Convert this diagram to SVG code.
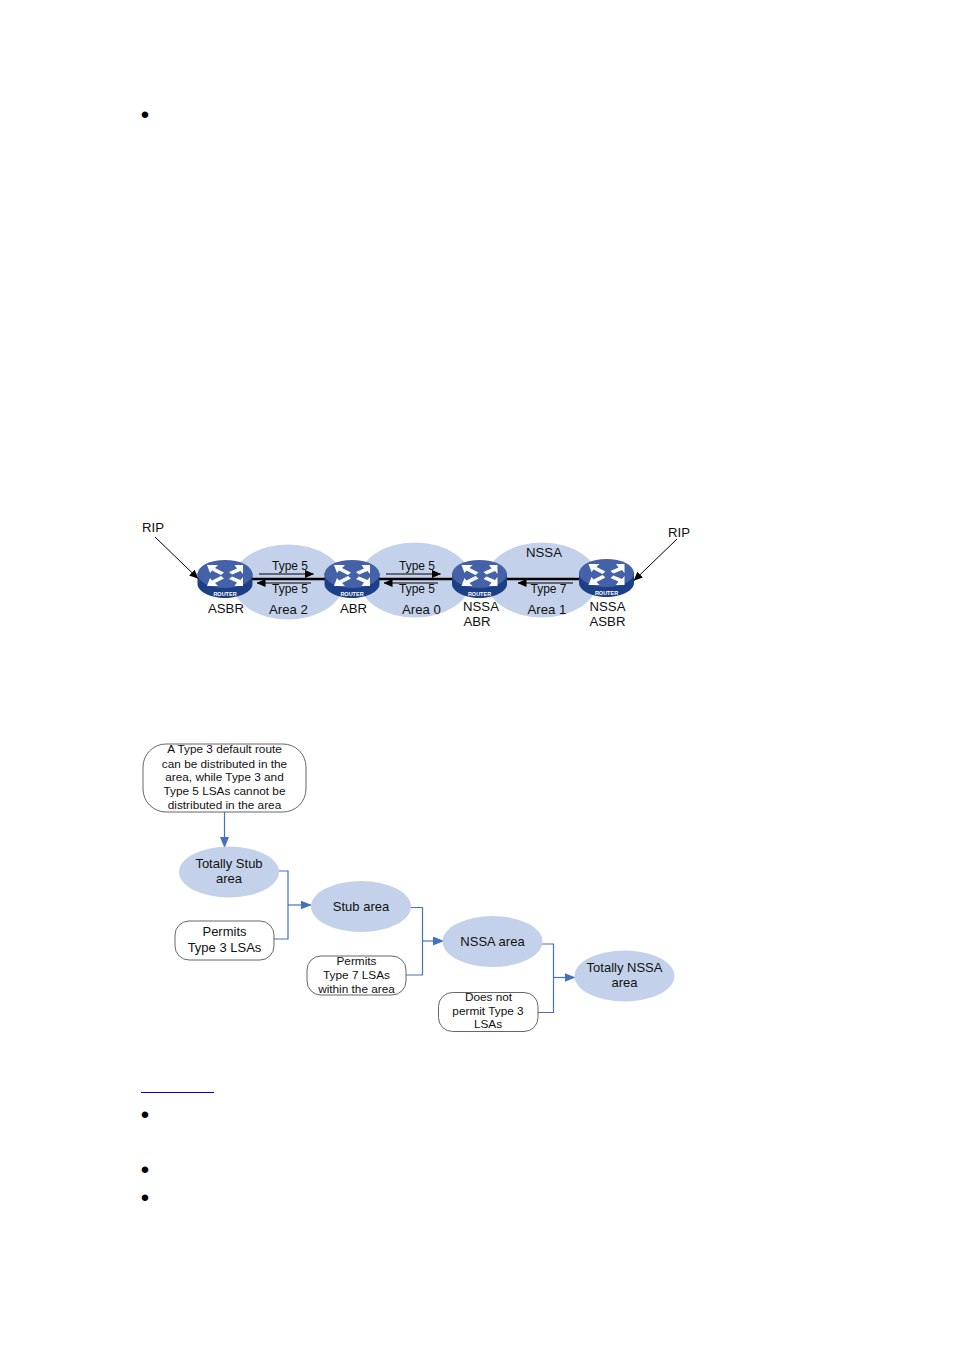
<svg xmlns="http://www.w3.org/2000/svg" xmlns:xlink="http://www.w3.org/1999/xlink" width="954" height="1350" viewBox="0 0 954 1350">
<style>
text{font-family:"Liberation Sans",Arial,sans-serif;fill:#111;text-anchor:middle}
.l{font-size:13.2px}.t{font-size:12px}.s{font-size:11.8px}.m{font-size:13px}
.b{font-size:24px;fill:#000}
.area{fill:#c3d2ea}
.box{fill:#fff;stroke:#555;stroke-width:.9}
.c{fill:none;stroke:#4472c0;stroke-width:1.2}
.k{fill:none;stroke:#000;stroke-width:1}
.th{fill:none;stroke:#000;stroke-width:2.4}
.rt{font-size:5.500px;font-weight:bold}
</style>
<defs>
<marker id="ab" markerUnits="userSpaceOnUse" markerWidth="11" markerHeight="9" refX="10.5" refY="4.5" orient="auto"><path d="M0 0L11 4.5L0 9z" fill="#4472c0"/></marker>
<marker id="ak" markerUnits="userSpaceOnUse" markerWidth="9" markerHeight="8" refX="8.5" refY="4" orient="auto"><path d="M0 0L9 4L0 8z" fill="#000"/></marker>
<g id="router">
<path d="M-27.5 13V24C-27.5 31.500 -15 38 0 38S27.500 31.500 27.500 24V13z" fill="#1d3f86"/>
<ellipse cx="0" cy="14" rx="27.500" ry="14" fill="#4562a8"/>
<path d="M-18 5H-7L-10 8L-1 12.500L-4 15L-13 10.500L-15 13zM-18 26H-7L-10 23L-1 18.500L-4 16L-13 20.500L-15 18zM18 5V14L15.500 11L7 14.500L4 12L12 8.500L9.500 5zM18 26V17L15.500 20L7 16.500L4 19L12 22.500L9.500 26z" fill="#fff"/>
<text class="rt" x="0" y="35.500" style="fill:#fff">ROUTER</text>
</g>
</defs>
<g id="page-marks">
<text class="b" x="145" y="122.500">•</text>
<line x1="141" y1="1092.500" x2="214" y2="1092.500" stroke="#0000c8" stroke-width="1"/>
<text class="b" x="145" y="1122.500">•</text>
<text class="b" x="145" y="1177.500">•</text>
<text class="b" x="145" y="1205.500">•</text>
</g>
<g id="areas">
<ellipse id="area2" class="area" cx="288" cy="582" rx="56" ry="37.500"/>
<ellipse id="area0" class="area" cx="415" cy="580" rx="56" ry="37.500"/>
<ellipse id="area1" class="area" cx="542" cy="580" rx="56" ry="37.500"/>
</g>
<g id="connectors">
<line class="th" x1="250" y1="579" x2="582" y2="579"/>
<line class="k" x1="155" y1="537" x2="198" y2="578.500" marker-end="url(#ak)"/>
<line class="k" x1="677" y1="539" x2="634" y2="580.500" marker-end="url(#ak)"/>
<line class="k" x1="259" y1="574" x2="313.500" y2="574" marker-end="url(#ak)"/>
<line class="k" x1="311" y1="583" x2="257" y2="583" marker-end="url(#ak)"/>
<line class="k" x1="386" y1="574" x2="440.500" y2="574" marker-end="url(#ak)"/>
<line class="k" x1="438" y1="583" x2="384" y2="583" marker-end="url(#ak)"/>
<line class="k" x1="573" y1="583" x2="518" y2="583" marker-end="url(#ak)"/>
<line class="c" x1="224.500" y1="812" x2="224.500" y2="847.500" marker-end="url(#ab)"/>
<path class="c" d="M278 871H288V939H274"/>
<line class="c" x1="288" y1="905" x2="311" y2="905" marker-end="url(#ab)"/>
<path class="c" d="M410 907.500H422.500V975H406"/>
<line class="c" x1="422" y1="941" x2="443.500" y2="941" marker-end="url(#ab)"/>
<path class="c" d="M541 944H553.500V1012.500H538"/>
<line class="c" x1="553.500" y1="977.500" x2="575" y2="977.500" marker-end="url(#ab)"/>
</g>
<g id="asbr"><use xlink:href="#router" href="#router" x="225" y="560"/><text class="l" x="226" y="613">ASBR</text></g>
<g id="abr"><use xlink:href="#router" href="#router" x="352" y="560"/><text class="l" x="353.500" y="613">ABR</text></g>
<g id="nssa-abr"><use xlink:href="#router" href="#router" x="479.500" y="560"/><text class="l" x="481" y="610.500">NSSA</text><text class="l" x="477" y="626">ABR</text></g>
<g id="nssa-asbr"><use xlink:href="#router" href="#router" x="606.500" y="559"/><text class="l" x="607.500" y="610.500">NSSA</text><text class="l" x="607.500" y="626">ASBR</text></g>
<g id="network-labels">
<text class="l" x="153" y="532">RIP</text>
<text class="l" x="679" y="537">RIP</text>
<text class="t" x="290" y="570">Type 5</text>
<text class="t" x="290" y="593">Type 5</text>
<text class="t" x="417" y="570">Type 5</text>
<text class="t" x="417" y="593">Type 5</text>
<text class="t" x="548.500" y="593">Type 7</text>
<text class="l" x="544" y="557">NSSA</text>
<text class="l" x="288.500" y="614">Area 2</text>
<text class="l" x="421.500" y="614">Area 0</text>
<text class="l" x="547" y="614">Area 1</text>
</g>
<g id="note-default">
<rect class="box" x="143" y="744" width="163" height="68" rx="23"/>
<text class="s" x="224.500" y="753">A Type 3 default route</text>
<text class="s" x="224.500" y="767.500">can be distributed in the</text>
<text class="s" x="224.500" y="781">area, while Type 3 and</text>
<text class="s" x="224.500" y="795">Type 5 LSAs cannot be</text>
<text class="s" x="224.500" y="808.500">distributed in the area</text>
</g>
<g id="totally-stub"><ellipse class="area" cx="229" cy="872" rx="50" ry="25.500"/><text class="m" x="229" y="868">Totally Stub</text><text class="m" x="229" y="883">area</text></g>
<g id="permits-type3"><rect class="box" x="175" y="921" width="99" height="39" rx="14"/><text class="m" x="224.500" y="936">Permits</text><text class="m" x="224.500" y="951.500">Type 3 LSAs</text></g>
<g id="stub"><ellipse class="area" cx="361" cy="906.500" rx="50" ry="25.500"/><text class="m" x="361" y="911">Stub area</text></g>
<g id="permits-type7"><rect class="box" x="307" y="956" width="99" height="39" rx="14"/><text class="s" x="356.500" y="965">Permits</text><text class="s" x="356.500" y="979">Type 7 LSAs</text><text class="s" x="356.500" y="993">within the area</text></g>
<g id="nssa"><ellipse class="area" cx="492.500" cy="941.500" rx="50" ry="25.500"/><text class="m" x="492.500" y="945.500">NSSA area</text></g>
<g id="no-type3"><rect class="box" x="438.500" y="992.500" width="99.500" height="39" rx="14"/><text class="s" x="488.500" y="1001">Does not</text><text class="s" x="488" y="1015">permit Type 3</text><text class="s" x="488" y="1028">LSAs</text></g>
<g id="totally-nssa"><ellipse class="area" cx="624.500" cy="976" rx="50" ry="25.500"/><text class="m" x="624.500" y="972">Totally NSSA</text><text class="m" x="624.500" y="987">area</text></g>
</svg>
